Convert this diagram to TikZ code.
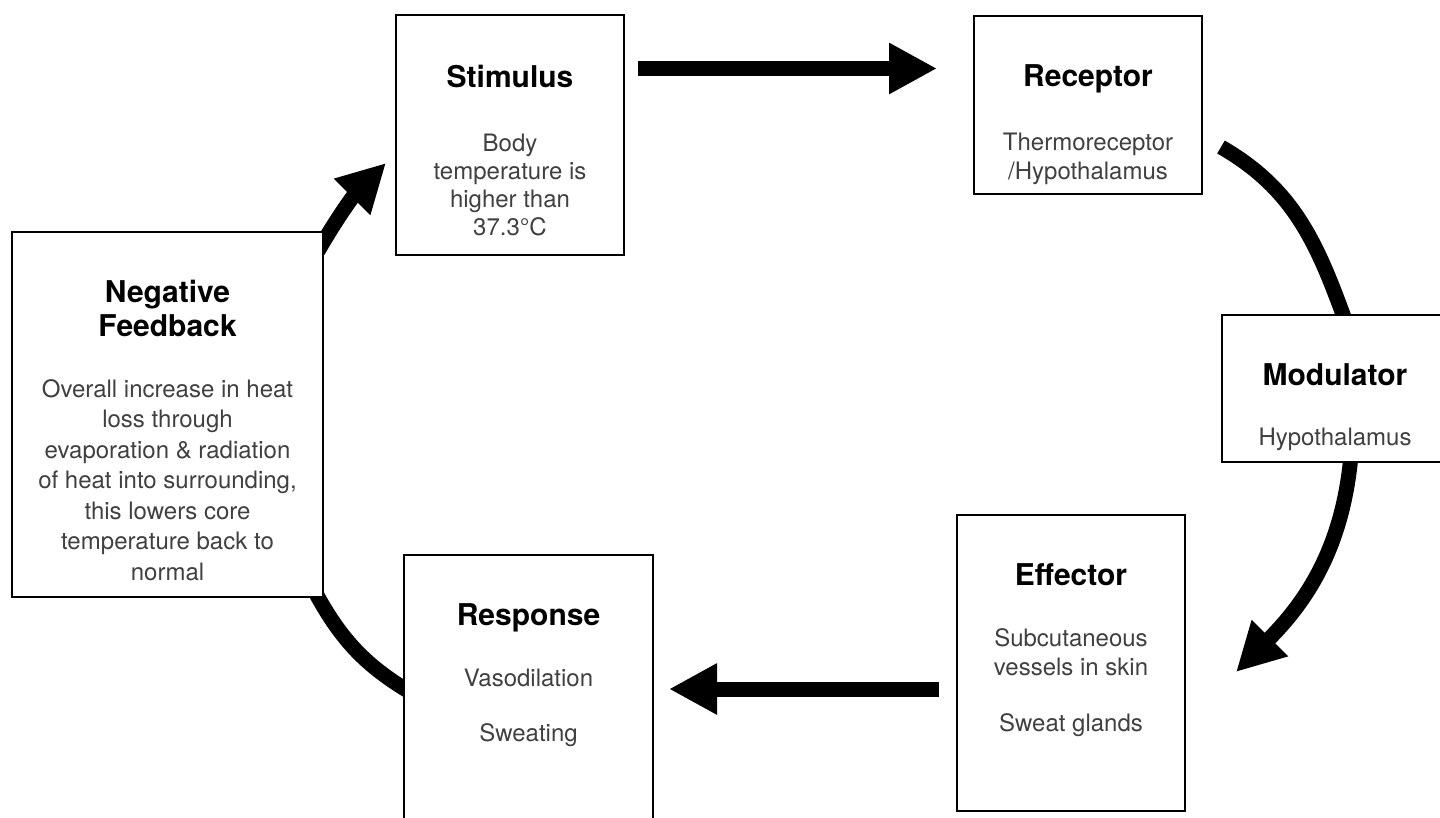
\documentclass[tikz,border=0pt]{standalone}
\usepackage{fontspec}
\setmainfont{TeX Gyre Heros}
\usetikzlibrary{positioning, arrows.meta, calc, backgrounds}

\newcommand{\headfont}{\fontsize{15}{17.5}\selectfont\bfseries\color{black}}
\newcommand{\bodyfont}{\fontsize{12}{14.5}\selectfont}
\newcommand{\head}[1]{{\headfont\rule{0pt}{12pt}#1}}

\begin{document}
\begin{tikzpicture}[
        x=0.5pt, y=-0.5pt,
        stage/.style={
            rectangle,
            draw,
            line width=1pt,
            fill=white,
            inner sep=0pt
        },
        caption/.style={align=center, anchor=north, inner sep=0pt, font=\bodyfont, text=black!75},
        flow/.style={line width=7.5pt},
        tip/.style={-{Triangle[length=24pt, width=24pt]}}
    ]
        \useasboundingbox (0,0) rectangle (1440,818);

        % Stages of the loop
        \node[stage, minimum width=114pt, minimum height=120pt] (stimulus) at (510,135) {};
        \node[stage, minimum width=114pt, minimum height=89pt] (receptor) at (1088,105) {};
        \node[stage, minimum width=113pt, minimum height=73.5pt] (modulator) at (1335,388.5) {};
        \node[stage, minimum width=114pt, minimum height=148pt] (effector) at (1071,663) {};
        \node[stage, minimum width=124.5pt, minimum height=142.5pt] (response) at (528.5,697.5) {};
        \node[stage, minimum width=155.5pt, minimum height=182.5pt] (feedback) at (167.5,414.5) {};

        % Texts
        \node[caption, font=\fontsize{12}{14}\selectfont] (stimulus_text) at ($(stimulus.north)+(0,49)$)
            {\head{Stimulus}\\[18pt]Body\\temperature is\\higher than\\37.3°C};
        \node[caption] (receptor_text) at ($(receptor.north)+(0,47)$)
            {\head{Receptor}\\[17.5pt]Thermoreceptor\\/Hypothalamus};
        \node[caption] (modulator_text) at ($(modulator.north)+(0,47)$)
            {\head{Modulator}\\[15.5pt]Hypothalamus};
        \node[caption] (effector_text) at ($(effector.north)+(0,47)$)
            {\head{Effector}\\[16pt]Subcutaneous\\vessels in skin\\[13.5pt]Sweat glands};
        \node[caption] (response_text) at ($(response.north)+(0,47)$)
            {\head{Response}\\[16pt]Vasodilation\\[13pt]Sweating};
        \node[caption, font=\fontsize{12}{15.25}\selectfont] (feedback_text) at ($(feedback.north)+(0,47)$)
            {\head{Negative}\\[2pt]{\headfont Feedback}\\[15pt]Overall increase in heat\\loss through\\evaporation \& radiation\\of heat into surrounding,\\this lowers core\\temperature back to\\normal};

        % Arrows, kept behind the boxes
        \begin{scope}[on background layer]
            \draw[flow, tip] ($(stimulus.north east)+(13,54.5)$) -- ($(receptor.north west)+(-36,53.5)$);
            \draw[flow] ($(receptor.east)+(18,42)$) to[out=-30, in=110] ($(modulator.north)+(10,6)$);
            \draw[flow, tip] ($(modulator.south)+(16,-8)$) to[out=-95, in=45] ($(effector.east)+(50,9)$);
            \draw[flow, tip] ($(effector.west)+(-17,26)$) -- ($(response.east)+(15,-8.5)$);
            \draw[flow] ($(response.west)+(12,-2.5)$) to[out=150, in=-62] ($(feedback.south)+(145.5,-10)$);
            \draw[flow, tip] ($(feedback.north east)+(-6,20)$) to[out=60, in=-135] ($(stimulus.west)+(-9,28)$);
        \end{scope}

    \end{tikzpicture}
\end{document}
